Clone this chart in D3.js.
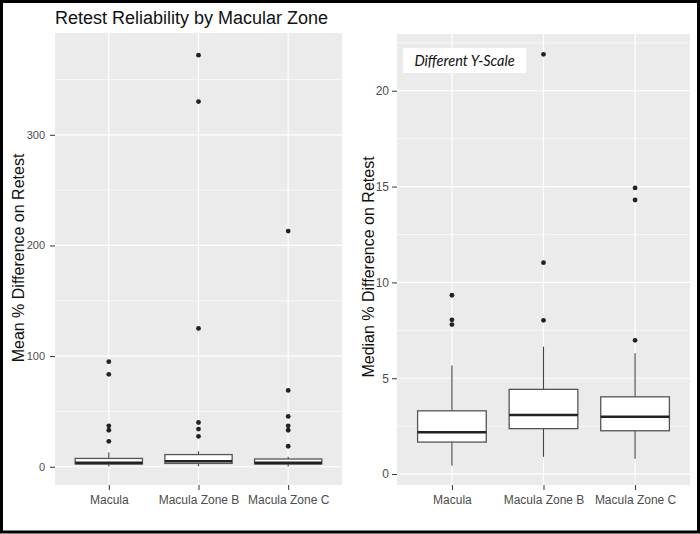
<!DOCTYPE html>
<html>
<head>
<meta charset="utf-8">
<script src="https://cdn.jsdelivr.net/npm/d3@7/dist/d3.min.js"></script>
<style>
  html, body { margin: 0; padding: 0; background: #fff; }
  svg { display: block; }
</style>
</head>
<body>
<svg id="chart" width="700" height="534"></svg>
<script>
// ---------------- DATA ----------------
const categories = ["Macula", "Macula Zone B", "Macula Zone C"];

// Left panel: Mean % difference on retest (box summaries)
const meanLow     = [0.3, 0.5, 0.3];
const meanQ1      = [2.5, 3.0, 2.5];
const meanMedian  = [3.5, 5.0, 3.5];
const meanQ3      = [7.5, 11.0, 7.0];
const meanHigh    = [13, 14, 9];
const meanOutliers = [
  [95, 83.5, 37, 33, 23],
  [372, 330, 125, 40, 34, 27.5],
  [213, 69, 45.5, 37, 33, 18.5]
];
const meanTicks = [0, 100, 200, 300];
const meanMinor = [50, 150, 250, 350];

// Right panel: Median % difference on retest (box summaries)
const medLow     = [0.43, 0.9, 0.8];
const medQ1      = [1.67, 2.37, 2.26];
const medMedian  = [2.18, 3.08, 2.99];
const medQ3      = [3.3, 4.42, 4.03];
const medHigh    = [5.67, 6.65, 6.3];
const medOutliers = [
  [9.33, 8.05, 7.8],
  [21.9, 11.03, 8.02],
  [14.93, 14.3, 6.98]
];
const medTicks = [0, 5, 10, 15, 20];
const medMinor = [2.5, 7.5, 12.5, 17.5, 22.5];

const titleText = "Retest Reliability by Macular Zone";
const leftYTitle = "Mean % Difference on Retest";
const rightYTitle = "Median % Difference on Retest";
const noteText = "Different Y-Scale";

// ---------------- DRAW ----------------
const svg = d3.select("#chart");
const FONT = "'Liberation Sans', Arial, sans-serif";

// outer border
svg.append("rect").attr("x", 1.5).attr("y", 1.5).attr("width", 697).attr("height", 530.5)
  .attr("fill", "#fff").attr("stroke", "#000").attr("stroke-width", 3);

function panel(cfg) {
  const g = svg.append("g");
  const x = d3.scalePoint().domain(categories).range([cfg.x0, cfg.x1]).padding(0.6);
  const y = d3.scaleLinear().domain(cfg.yDomain).range([cfg.y1, cfg.y0]);

  g.append("rect").attr("x", cfg.x0).attr("y", cfg.y0)
    .attr("width", cfg.x1 - cfg.x0).attr("height", cfg.y1 - cfg.y0).attr("fill", "#EBEBEB");

  // minor grid
  g.selectAll(".minor").data(cfg.minor.filter(v => y(v) >= cfg.y0 && y(v) <= cfg.y1)).join("line")
    .attr("x1", cfg.x0).attr("x2", cfg.x1).attr("y1", d => y(d)).attr("y2", d => y(d))
    .attr("stroke", "#fff").attr("stroke-width", 0.6);
  // major grid
  g.selectAll(".major").data(cfg.ticks).join("line")
    .attr("x1", cfg.x0).attr("x2", cfg.x1).attr("y1", d => y(d)).attr("y2", d => y(d))
    .attr("stroke", "#fff").attr("stroke-width", 1.2);
  g.selectAll(".vmajor").data(categories).join("line")
    .attr("x1", d => x(d)).attr("x2", d => x(d)).attr("y1", cfg.y0).attr("y2", cfg.y1)
    .attr("stroke", "#fff").attr("stroke-width", 1.2);

  // axes
  const yAxis = d3.axisLeft(y).tickValues(cfg.ticks).tickSize(5).tickPadding(cfg.yPad);
  const ya = g.append("g").attr("transform", `translate(${cfg.x0},0)`).call(yAxis);
  ya.select(".domain").remove();
  ya.selectAll("line").attr("stroke", "#333");
  ya.selectAll("text").attr("fill", "#4D4D4D").style("font-family", FONT).style("font-size", cfg.yFont);

  const xAxis = d3.axisBottom(x).tickSize(5).tickPadding(5);
  const xa = g.append("g").attr("transform", `translate(0,${cfg.y1})`).call(xAxis);
  xa.select(".domain").remove();
  xa.selectAll("line").attr("stroke", "#333");
  xa.selectAll("text").attr("fill", "#4D4D4D").style("font-family", FONT).style("font-size", "12px");

  const bw = x.step() * 0.75;
  const d = categories.map((c, i) => ({
    c, lo: cfg.low[i], q1: cfg.q1[i], med: cfg.med[i], q3: cfg.q3[i], hi: cfg.high[i], out: cfg.out[i]
  }));
  const boxes = g.selectAll(".box").data(d).join("g");
  // whiskers
  boxes.append("line").attr("x1", b => x(b.c)).attr("x2", b => x(b.c))
    .attr("y1", b => y(b.q3)).attr("y2", b => y(b.hi)).attr("stroke", "#444").attr("stroke-width", 1.1);
  boxes.append("line").attr("x1", b => x(b.c)).attr("x2", b => x(b.c))
    .attr("y1", b => y(b.q1)).attr("y2", b => y(b.lo)).attr("stroke", "#444").attr("stroke-width", 1.1);
  // box
  boxes.append("rect").attr("x", b => x(b.c) - bw / 2).attr("width", bw)
    .attr("y", b => y(b.q3)).attr("height", b => y(b.q1) - y(b.q3))
    .attr("fill", "#fff").attr("stroke", "#555").attr("stroke-width", 1.3);
  // median
  boxes.append("line").attr("x1", b => x(b.c) - bw / 2).attr("x2", b => x(b.c) + bw / 2)
    .attr("y1", b => y(b.med)).attr("y2", b => y(b.med)).attr("stroke", "#222").attr("stroke-width", 2.6);
  // outliers
  boxes.each(function (b) {
    d3.select(this).selectAll("circle").data(b.out).join("circle")
      .attr("cx", x(b.c)).attr("cy", v => y(v)).attr("r", 2.4).attr("fill", "#222");
  });

  // y title
  g.append("text").attr("transform", `translate(${cfg.titleX},${cfg.titleY}) rotate(-90)`)
    .attr("text-anchor", "middle").attr("fill", "#111")
    .style("font-family", FONT).style("font-size", "16px").text(cfg.yTitle);
  return { x, y, g };
}

panel({
  x0: 55, x1: 342, y0: 33, y1: 485, yDomain: [-16.5, 392],
  ticks: meanTicks, minor: meanMinor, yPad: 5, yFont: "11px",
  low: meanLow, q1: meanQ1, med: meanMedian, q3: meanQ3, high: meanHigh, out: meanOutliers,
  yTitle: leftYTitle, titleX: 24, titleY: 258
});

panel({
  x0: 397, x1: 690, y0: 34, y1: 485, yDomain: [-0.57, 22.96],
  ticks: medTicks, minor: medMinor, yPad: 3, yFont: "12px",
  low: medLow, q1: medQ1, med: medMedian, q3: medQ3, high: medHigh, out: medOutliers,
  yTitle: rightYTitle, titleX: 374, titleY: 267
});

// chart title
svg.append("text").attr("x", 55).attr("y", 24).attr("fill", "#111")
  .style("font-family", FONT).style("font-size", "18px").text(titleText);

// note box
svg.append("rect").attr("x", 403).attr("y", 48).attr("width", 123).attr("height", 25).attr("fill", "#fff");
svg.append("text").attr("x", 464.5).attr("y", 65.5).attr("text-anchor", "middle").attr("fill", "#111")
  .style("font-family", "Lato, 'Open Sans', sans-serif").style("font-style", "italic")
  .style("font-size", "14.5px").text(noteText);
</script>
</body>
</html>
